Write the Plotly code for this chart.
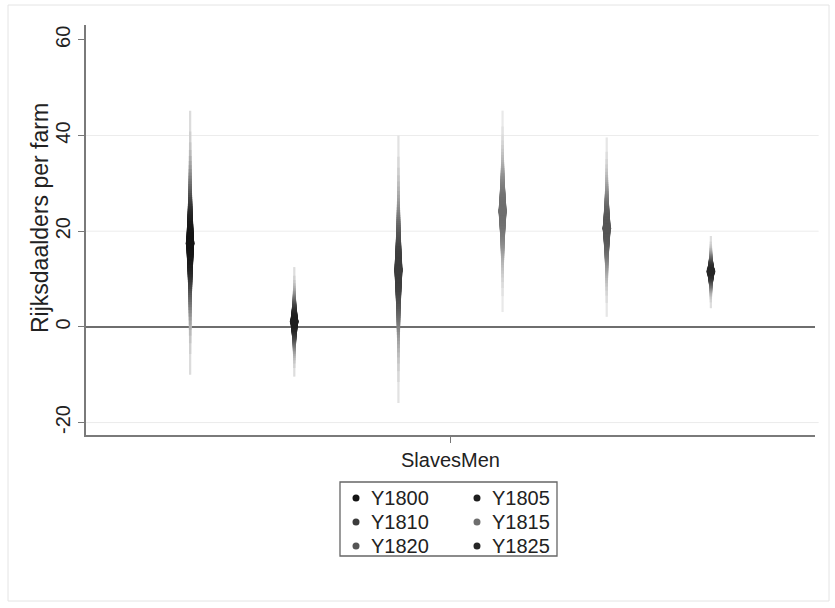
import plotly.graph_objects as go
from statistics import NormalDist

# ---------------- data ----------------
series_names = ["Y1800", "Y1805", "Y1810", "Y1815", "Y1820", "Y1825"]
estimates = [17.5, 1.1, 11.9, 24.2, 20.6, 11.6]
ci99_low = [-10.0, -10.4, -15.9, 3.1, 2.1, 3.9]
ci99_high = [45.2, 12.5, 40.0, 45.2, 39.6, 19.0]
category_labels = ["SlavesMen"]
y_tick_values = [-20, 0, 20, 40, 60]
y_tick_labels = ["-20", "0", "20", "40", "60"]
y_title = "Rijksdaalders per farm"

# ---------------- styles ----------------
series_colors = ["#141414", "#1e1e1e", "#3c3c3c", "#6e6e6e", "#555555", "#262626"]
FONT = "Liberation Sans, Arial, sans-serif"
TXT = "#222222"

W, H = 835, 608
ML, MR, MT, MB = 86, 20, 25, 173
PW = W - ML - MR
PH = H - MT - MB


def px_x(px):
    return (px - ML) / PW


def px_y(py):
    return (H - MB - py) / PH


def blend(hexcol, t):
    r = int(hexcol[1:3], 16)
    g = int(hexcol[3:5], 16)
    b = int(hexcol[5:7], 16)
    r = round(255 - (255 - r) * t)
    g = round(255 - (255 - g) * t)
    b = round(255 - (255 - b) * t)
    return f"rgb({r},{g},{b})"


nd = NormalDist()
z99 = nd.inv_cdf(0.995)
levels = [0.99 - 0.02 * k for k in range(50)]  # 0.99 ... 0.01

n = len(series_names)
offsets = [i - (n - 1) / 2 for i in range(n)]

fig = go.Figure()

# smoothed confidence intervals (outer, thin, light first)
for i in range(n):
    est = estimates[i]
    lo_half = est - ci99_low[i]
    hi_half = ci99_high[i] - est
    for p in levels:
        f = nd.inv_cdf(0.5 + p / 2) / z99
        w = 2.2 + 6.0 * (1 - p) ** 1.2
        inten = 1 - 0.85 * (p / 0.99) ** 3
        fig.add_trace(go.Scatter(
            x=[offsets[i], offsets[i]],
            y=[est - f * lo_half, est + f * hi_half],
            mode="lines",
            line=dict(color=blend(series_colors[i], inten), width=w),
            showlegend=False, hoverinfo="skip"))

# point estimates
for i in range(n):
    fig.add_trace(go.Scatter(
        x=[offsets[i]], y=[estimates[i]], mode="markers",
        marker=dict(color=series_colors[i], size=9, symbol="circle"),
        showlegend=False, name=series_names[i]))

# gridlines (Stata style: none at the top tick)
for v in y_tick_values:
    if v in (0, 60):
        continue
    fig.add_shape(type="line", xref="paper", yref="y", x0=0, x1=1.005, y0=v, y1=v,
                  line=dict(color="#ececec", width=1), layer="below")

# legend box
fig.add_shape(type="rect", xref="paper", yref="paper",
              x0=px_x(340), x1=px_x(557), y0=px_y(556), y1=px_y(482),
              line=dict(color="#666666", width=1.3), fillcolor="rgba(0,0,0,0)")

# legend entries: two columns, three rows
col_dot_px = [356, 477]
col_txt_px = [369, 490]
row_px = [498, 522, 546]
for i in range(n):
    c = i % 2
    r = i // 2
    cx, cy = col_dot_px[c], row_px[r]
    fig.add_shape(type="circle", xref="paper", yref="paper",
                  x0=px_x(cx - 3.5), x1=px_x(cx + 3.5),
                  y0=px_y(cy + 3.5), y1=px_y(cy - 3.5),
                  line=dict(width=0), fillcolor=series_colors[i])
    fig.add_annotation(xref="paper", yref="paper", x=px_x(col_txt_px[c]), y=px_y(cy),
                       xanchor="left", yanchor="middle", showarrow=False,
                       text=series_names[i],
                       font=dict(family=FONT, size=20, color=TXT))

# y-axis title
fig.add_annotation(xref="paper", yref="paper", x=px_x(40), y=px_y(218),
                   xanchor="center", yanchor="middle", showarrow=False,
                   textangle=-90, text=y_title,
                   font=dict(family=FONT, size=23, color=TXT))

# outer graph frame
fig.add_shape(type="rect", xref="paper", yref="paper",
              x0=px_x(8), x1=px_x(829), y0=px_y(601), y1=px_y(5),
              line=dict(color="#e4e4e4", width=1), fillcolor="rgba(0,0,0,0)", layer="below")

fig.update_layout(
    width=W, height=H,
    margin=dict(l=ML, r=MR, t=MT, b=MB),
    paper_bgcolor="white", plot_bgcolor="white",
    font=dict(family=FONT, color=TXT),
    showlegend=False,
    xaxis=dict(
        range=[-3.5, 3.5],
        tickvals=[0], ticktext=category_labels,
        ticks="outside", ticklen=6, tickcolor="#777777", tickwidth=1.2,
        showline=True, linecolor="#7a7a7a", linewidth=1.5,
        showgrid=False, zeroline=False,
        tickfont=dict(family=FONT, size=20, color=TXT),
    ),
    yaxis=dict(
        range=[-22.6, 63.1],
        tickvals=y_tick_values, ticktext=y_tick_labels,
        tickangle=-90,
        ticks="outside", ticklen=6, tickcolor="#777777", tickwidth=1.2,
        showline=True, linecolor="#7a7a7a", linewidth=1.5,
        showgrid=False,
        zeroline=True, zerolinecolor="#6e6e6e", zerolinewidth=2,
        tickfont=dict(family=FONT, size=20, color=TXT),
    ),
)

fig.write_html("out.html", config={"displayModeBar": False},
               post_script="document.body.style.margin='0px';")
